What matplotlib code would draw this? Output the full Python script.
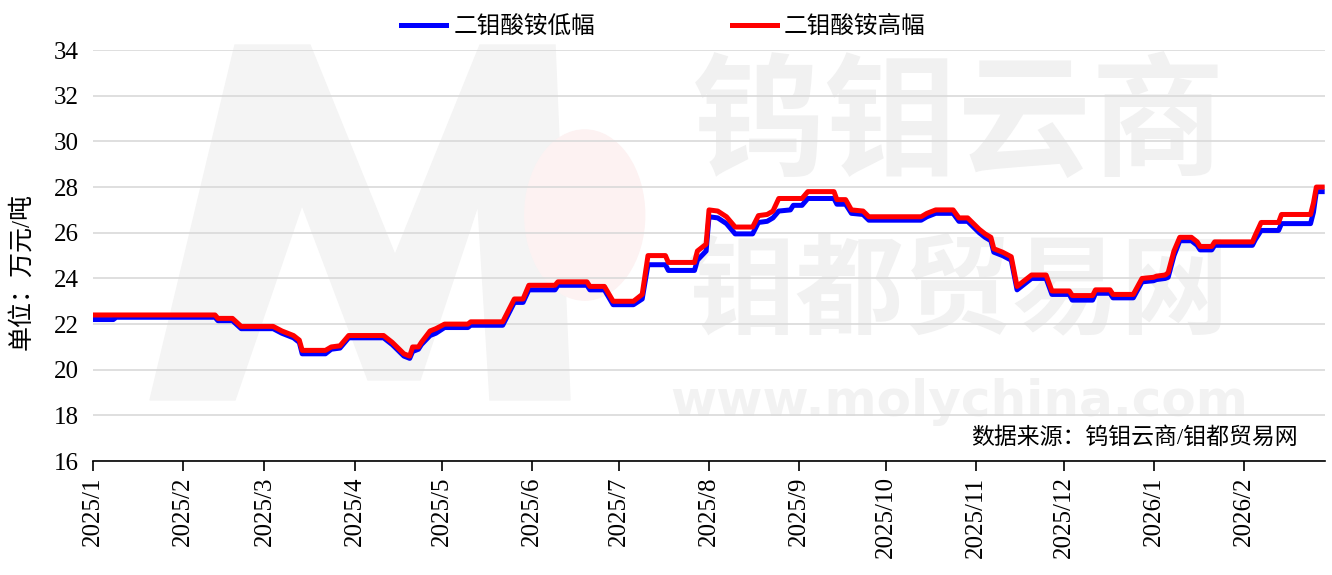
import numpy as np
import pandas as pd
import matplotlib
matplotlib.use('Agg')
import matplotlib.pyplot as plt
from matplotlib.patches import Ellipse, Polygon

plt.rcParams['font.family'] = ['Liberation Serif', 'Noto Sans CJK SC', 'DejaVu Sans']

# price points (date, low, high), unit: 10k yuan / ton
dates = pd.to_datetime([
    "2025-01-01", "2025-01-08", "2025-01-09", "2025-02-12", "2025-02-13", "2025-02-18",
    "2025-02-21", "2025-03-04", "2025-03-07", "2025-03-11", "2025-03-13", "2025-03-14",
    "2025-03-22", "2025-03-24", "2025-03-27", "2025-03-30", "2025-04-11", "2025-04-14",
    "2025-04-18", "2025-04-20", "2025-04-21", "2025-04-23", "2025-04-24", "2025-04-27",
    "2025-04-29", "2025-05-02", "2025-05-10", "2025-05-11", "2025-05-22", "2025-05-26",
    "2025-05-29", "2025-05-31", "2025-06-09", "2025-06-10", "2025-06-20", "2025-06-21",
    "2025-06-26", "2025-06-29", "2025-07-06", "2025-07-09", "2025-07-11", "2025-07-17",
    "2025-07-18", "2025-07-27", "2025-07-28", "2025-07-31", "2025-08-01", "2025-08-04",
    "2025-08-07", "2025-08-10", "2025-08-16", "2025-08-18", "2025-08-21", "2025-08-23",
    "2025-08-25", "2025-08-29", "2025-08-30", "2025-09-02", "2025-09-04", "2025-09-13",
    "2025-09-14", "2025-09-17", "2025-09-19", "2025-09-23", "2025-09-25", "2025-10-13",
    "2025-10-15", "2025-10-18", "2025-10-24", "2025-10-26", "2025-10-29", "2025-11-02",
    "2025-11-04", "2025-11-06", "2025-11-07", "2025-11-10", "2025-11-13", "2025-11-15",
    "2025-11-17", "2025-11-20", "2025-11-25", "2025-11-27", "2025-12-03", "2025-12-04",
    "2025-12-11", "2025-12-12", "2025-12-17", "2025-12-18", "2025-12-25", "2025-12-28",
    "2026-01-01", "2026-01-02", "2026-01-05", "2026-01-06", "2026-01-08", "2026-01-10",
    "2026-01-14", "2026-01-16", "2026-01-17", "2026-01-21", "2026-01-22", "2026-02-04",
    "2026-02-05", "2026-02-07", "2026-02-13", "2026-02-14", "2026-02-24", "2026-02-25",
    "2026-02-26", "2026-02-28",
])

low = [
    22.2, 22.2, 22.3, 22.3, 22.15, 22.15, 21.8, 21.8, 21.6, 21.4, 21.2, 20.7,
    20.7, 20.9, 20.95, 21.4, 21.4, 21.1, 20.6, 20.5, 20.8, 20.9, 21.1, 21.5,
    21.6, 21.85, 21.85, 21.95, 21.95, 22.95, 22.95, 23.5, 23.5, 23.7, 23.7, 23.5,
    23.5, 22.85, 22.85, 23.1, 24.6, 24.6, 24.35, 24.35, 24.8, 25.2, 26.7, 26.65,
    26.4, 25.95, 25.95, 26.45, 26.5, 26.65, 26.95, 27.0, 27.2, 27.2, 27.5, 27.5,
    27.25, 27.25, 26.85, 26.8, 26.55, 26.55, 26.7, 26.85, 26.85, 26.5, 26.5, 26.0,
    25.8, 25.65, 25.15, 25.0, 24.8, 23.5, 23.7, 24.0, 24.0, 23.3, 23.3, 23.05,
    23.05, 23.35, 23.35, 23.15, 23.15, 23.85, 23.9, 23.95, 24.0, 24.05, 25.0, 25.65,
    25.65, 25.45, 25.25, 25.25, 25.45, 25.45, 25.7, 26.1, 26.1, 26.4, 26.4, 26.9,
    27.8, 27.8,
]

high = [
    22.4, 22.4, 22.4, 22.4, 22.25, 22.25, 21.9, 21.9, 21.7, 21.5, 21.3, 20.85,
    20.85, 21.0, 21.05, 21.5, 21.5, 21.2, 20.7, 20.6, 21.0, 21.0, 21.2, 21.7,
    21.8, 22.0, 22.0, 22.1, 22.1, 23.1, 23.1, 23.7, 23.7, 23.85, 23.85, 23.65,
    23.65, 23.0, 23.0, 23.3, 25.0, 25.0, 24.7, 24.7, 25.2, 25.5, 27.0, 26.95,
    26.7, 26.25, 26.25, 26.75, 26.8, 26.95, 27.5, 27.5, 27.5, 27.5, 27.8, 27.8,
    27.45, 27.45, 27.0, 26.95, 26.7, 26.7, 26.85, 27.0, 27.0, 26.65, 26.65, 26.15,
    25.95, 25.8, 25.3, 25.15, 24.95, 23.65, 23.85, 24.15, 24.15, 23.45, 23.45, 23.25,
    23.25, 23.5, 23.5, 23.3, 23.3, 24.0, 24.05, 24.1, 24.15, 24.25, 25.2, 25.8,
    25.8, 25.6, 25.4, 25.4, 25.6, 25.6, 25.9, 26.45, 26.45, 26.8, 26.8, 27.3,
    28.0, 28.0,
]

series_names = ['二钼酸铵低幅', '二钼酸铵高幅']
y_ticks = np.arange(16, 35, 2)

W, H = 1332, 575
fig = plt.figure(figsize=(W / 100, H / 100), dpi=100)
ax = fig.add_axes([0.0698, 0.198, 0.925, 0.715])
ax.set_facecolor('none')

# faint watermark behind the chart (logo outline in pixels, converted to figure fractions)
m_outline = np.array([(150, 400), (235, 45), (310, 45), (395, 255), (480, 45),
                      (555, 45), (570, 400), (490, 400), (478, 205), (420, 380),
                      (368, 380), (302, 205), (235, 400)], dtype=float)
m_outline[:, 0] /= W
m_outline[:, 1] = 1 - m_outline[:, 1] / H
ax.add_patch(Polygon(m_outline, closed=True, transform=fig.transFigure,
                     color='#f4f4f4', zorder=0, clip_on=False))
ax.add_patch(Ellipse((0.439, 0.626), 0.09, 0.296, transform=fig.transFigure,
                     color='#fdf2f2', zorder=0, clip_on=False))
wm = dict(transform=fig.transFigure, zorder=0, ha='center', va='center',
          family=['Noto Sans CJK SC'], fontweight='bold', color='#f1f1f1')
ax.text(0.72, 0.78, '钨钼云商', fontsize=96, **wm)
ax.text(0.72, 0.49, '钼都贸易网', fontsize=78, **wm)
ax.text(0.72, 0.30, 'www.molychina.com', fontsize=36, transform=fig.transFigure,
        zorder=0, ha='center', va='center', family=['DejaVu Sans'],
        fontweight='bold', color='#f2f2f2')

ax.plot(dates, low, color='#0000ff', lw=3.6, label=series_names[0], zorder=3)
ax.plot(dates, high, color='#ff0000', lw=3.6, label=series_names[1], zorder=4)

ax.set_ylim(16, 34)
ax.set_yticks(y_ticks)
ax.set_xlim(pd.Timestamp('2025-01-01'), pd.Timestamp('2026-03-01'))
month_ticks = pd.date_range('2025-01-01', '2026-02-01', freq='MS')
ax.set_xticks(month_ticks)
ax.set_xticklabels([f'{d.year}/{d.month}' for d in month_ticks], rotation=90)

ax.grid(axis='y', color='#d9d9d9', lw=1.2, zorder=1)
for s in ['left', 'right', 'top']:
    ax.spines[s].set_visible(False)
ax.spines['bottom'].set_color('black')
ax.spines['bottom'].set_linewidth(1.2)
ax.tick_params(axis='y', length=0, labelsize=18, pad=10)
ax.tick_params(axis='x', length=7, width=1.2, direction='out', labelsize=18, pad=4)

fig.text(0.016, 0.527, '单位：万元/吨', rotation=90, ha='center', va='center',
         fontsize=18)
ax.text(0.978, 0.056, '数据来源：钨钼云商/钼都贸易网', transform=ax.transAxes,
        ha='right', va='center', fontsize=16.5, zorder=5)

ax.legend(loc='lower center', bbox_to_anchor=(0.463, 1.0), ncol=2, frameon=False,
          fontsize=17, handlelength=1.9, handletextpad=0.3, columnspacing=5.8,
          borderaxespad=0.1)

fig.savefig('out.png', dpi=100)
